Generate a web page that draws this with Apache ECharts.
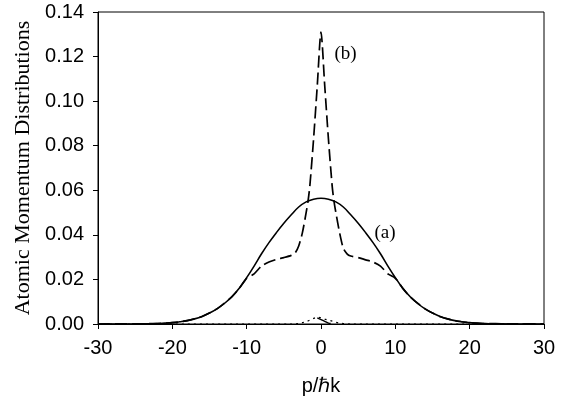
<!DOCTYPE html>
<html><head><meta charset="utf-8">
<script src="https://cdn.jsdelivr.net/npm/echarts@6/dist/echarts.min.js"></script>
<style>html,body{margin:0;padding:0;background:#fff}#c{width:569px;height:405px}</style>
</head><body><div id="c"></div>
<script>
// (a) solid broad distribution
const xA = [-30,-25,-24,-23,-22,-21,-20,-19,-18,-17,-16,-15,-14,-13,-12,-11,-10,-9,-8,-7,-6,-5,-4,-3,-2,-1,0,1,2,3,4,5,6,7,8,9,10,11,12,13,14,15,16,17,18,19,20,21,22,23,24,25,30];
const yA = [0,0,0.0001,0.0001,0.0002,0.0004,0.0006,0.001,0.0015,0.0023,0.0034,0.0049,0.0068,0.0092,0.0122,0.016,0.0208,0.026,0.0315,0.0365,0.041,0.0452,0.049,0.0525,0.0548,0.0560,0.0564,0.0560,0.0548,0.0525,0.049,0.0452,0.041,0.0365,0.0315,0.026,0.0208,0.016,0.0122,0.0092,0.0068,0.0049,0.0034,0.0023,0.0015,0.001,0.0006,0.0004,0.0002,0.0001,0.0001,0,0];
// (b) dashed peaked distribution
const xB = [-30,-25,-22,-20,-18,-16,-14,-12,-11,-10,-9,-8,-7,-6,-5,-4,-3.5,-3,-2.5,-2,-1.75,-1.5,-1,-0.5,0,0.5,1,1.5,1.75,2,2.5,3,3.5,4,5,6,7,8,9,10,11,12,14,16,18,20,22,25,30];
const yB = [0,0.0001,0.0002,0.0006,0.0015,0.0034,0.0068,0.0122,0.016,0.0205,0.0225,0.026,0.0278,0.029,0.0298,0.0308,0.0318,0.035,0.041,0.050,0.055,0.062,0.083,0.107,0.131,0.107,0.083,0.062,0.055,0.050,0.041,0.034,0.0315,0.0305,0.0298,0.0288,0.0278,0.026,0.0225,0.0205,0.016,0.0122,0.0068,0.0034,0.0015,0.0006,0.0002,0.0001,0];
// (c) dotted small bump
const xC = [-30,-4,-3,-2.5,-2,-1.5,-1,-0.5,0,0.5,1,1.5,2,2.5,3,4,30];
const yC = [0,0,0.0002,0.0006,0.001,0.0018,0.0025,0.003,0.0028,0.0022,0.0017,0.0013,0.0008,0.0004,0.0002,0,0];
// (d) short solid segment
const xD = [-0.5,0,0.5,1,1.3];
const yD = [0.0028,0.002,0.0012,0.0004,0.0002];
const xTicks = [-30,-20,-10,0,10,20,30];
const yTicks = [0,0.02,0.04,0.06,0.08,0.10,0.12,0.14];
const labelA = {text:'(a)', x:8.6, y:0.041};
const labelB = {text:'(b)', x:3.3, y:0.121};

const zip = (xs, ys) => xs.map((x,i)=>[x, ys[i]]);
const chart = echarts.init(document.getElementById('c'));
const lblMark = (l) => ({symbol:'circle', symbolSize:0, silent:true,
  data:[{coord:[l.x,l.y], label:{show:true, position:'inside', formatter:l.text,
    fontFamily:'Liberation Serif', fontSize:19, color:'#000'}}]});
chart.setOption({
  animation:false,
  grid:{left:98, right:25, top:12, bottom:81, show:true, borderColor:'#000', borderWidth:1},
  xAxis:{type:'value', min:xTicks[0], max:xTicks[xTicks.length-1], interval:10,
    name:'p/\u210Fk', nameLocation:'middle', nameGap:52,
    nameTextStyle:{fontFamily:'Liberation Sans', fontSize:20, color:'#000'},
    axisLine:{onZero:false, lineStyle:{color:'#000', width:1}},
    axisTick:{show:true, length:5, inside:false, lineStyle:{color:'#000'}},
    axisLabel:{fontFamily:'Liberation Sans', fontSize:20, color:'#000', margin:14},
    splitLine:{show:false}},
  yAxis:{type:'value', min:0, max:0.14, interval:0.02,
    name:'Atomic Momentum Distributions', nameLocation:'middle', nameGap:63,
    nameTextStyle:{fontFamily:'Liberation Serif', fontSize:22, color:'#000'},
    axisLine:{show:true, onZero:false, lineStyle:{color:'#000', width:1}},
    axisTick:{show:true, length:5, inside:false, lineStyle:{color:'#000'}},
    axisLabel:{fontFamily:'Liberation Sans', fontSize:20, color:'#000', margin:14,
      formatter:v=>v.toFixed(2)},
    splitLine:{show:false}},
  series:[
    {type:'line', data:zip(xA,yA), smooth:0.4, showSymbol:false, symbol:'none',
      lineStyle:{color:'#000', width:1.6}, markPoint:lblMark(labelA)},
    {type:'line', data:zip(xB,yB), smooth:0.25, showSymbol:false, symbol:'none',
      lineStyle:{color:'#000', width:1.7, type:[12,5]}, markPoint:lblMark(labelB)},
    {type:'line', data:zip(xC,yC), smooth:0.3, showSymbol:false, symbol:'none',
      lineStyle:{color:'#000', width:1.2, type:[2,4]}},
    {type:'line', data:zip(xD,yD), smooth:0.3, showSymbol:false, symbol:'none',
      lineStyle:{color:'#000', width:1.4}}
  ]
});
</script></body></html>
